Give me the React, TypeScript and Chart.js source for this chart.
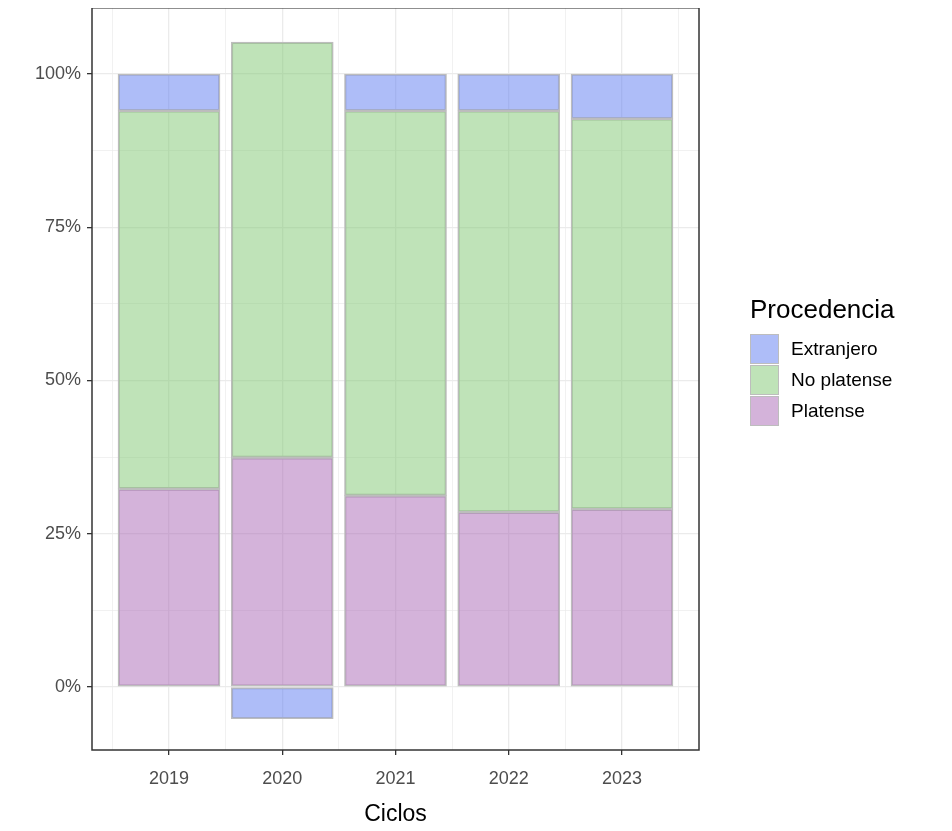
import { useEffect, useRef } from 'react';
import Chart from 'chart.js/auto';

const CICLOS = ['2019', '2020', '2021', '2022', '2023'];
const PLATENSE = [32.3, 37.4, 31.2, 28.5, 29.0];
const NO_PLATENSE = [61.7, 67.8, 62.8, 65.5, 63.7];
const EXTRANJERO = [6.0, -5.2, 6.0, 6.0, 7.3];

const COLORS = {
  extranjero: 'rgba(93, 123, 241, 0.5)',
  noPlatense: 'rgba(127, 199, 113, 0.5)',
  platense: 'rgba(169, 103, 181, 0.5)',
};

const LEGEND = [
  { label: 'Extranjero', color: COLORS.extranjero },
  { label: 'No platense', color: COLORS.noPlatense },
  { label: 'Platense', color: COLORS.platense },
];

const FONT = '"Liberation Sans", Arial, sans-serif';

const isMajor = (v: number, step: number) => Math.abs(v / step - Math.round(v / step)) < 1e-6;

export default function App() {
  const canvasRef = useRef<HTMLCanvasElement | null>(null);

  useEffect(() => {
    const canvas = canvasRef.current;
    if (!canvas) return;

    const toPoints = (vals: number[]) => vals.map((v, i) => ({ x: i + 1, y: v / 100 }));
    const ds = (label: string, vals: number[], color: string) => ({
      label,
      data: toPoints(vals),
      backgroundColor: color,
      borderColor: '#bdbdbd',
      borderWidth: 1.5,
      borderSkipped: false,
      barThickness: 102,
    });

    const border = {
      id: 'panelBorder',
      afterDraw(c: any) {
        const { ctx, chartArea: a } = c;
        ctx.save();
        ctx.strokeStyle = '#333333';
        ctx.lineWidth = 1.5;
        ctx.strokeRect(a.left, a.top, a.right - a.left, a.bottom - a.top);
        ctx.restore();
      },
    };

    const chart = new Chart(canvas, {
      type: 'bar',
      data: {
        datasets: [
          ds('Platense', PLATENSE, COLORS.platense),
          ds('No platense', NO_PLATENSE, COLORS.noPlatense),
          ds('Extranjero', EXTRANJERO, COLORS.extranjero),
        ],
      },
      options: {
        animation: false,
        responsive: false,
        layout: { padding: { top: 0, right: 253, left: 0, bottom: 3 } },
        plugins: { legend: { display: false }, tooltip: { enabled: false } },
        scales: {
          x: {
            type: 'linear',
            stacked: true,
            offset: false,
            bounds: 'ticks',
            min: 0.32,
            max: 5.68,
            afterBuildTicks: (s: any) => {
              s.ticks = [0.5, 1, 1.5, 2, 2.5, 3, 3.5, 4, 4.5, 5, 5.5].map((v) => ({ value: v }));
            },
            afterFit: (s: any) => {
              s.height = 78;
            },
            ticks: {
              autoSkip: false,
              maxRotation: 0,
              callback: (v: any) => (isMajor(Number(v), 1) ? CICLOS[Number(v) - 1] : ''),
              color: '#4d4d4d',
              font: { family: FONT, size: 18 },
              padding: 13,
            },
            grid: {
              offset: false,
              color: '#ebebeb',
              lineWidth: (ctx: any) => (isMajor(ctx.tick.value, 1) ? 1.3 : 0.7),
              tickLength: 5,
              tickColor: (ctx: any) => (isMajor(ctx.tick.value, 1) ? '#333333' : 'rgba(0,0,0,0)'),
            },
            border: { display: false },
            title: {
              display: true,
              text: 'Ciclos',
              color: '#000',
              font: { family: FONT, size: 23 },
              padding: { top: 0, bottom: 0 },
            },
          },
          y: {
            stacked: true,
            min: -0.103,
            max: 1.108,
            afterBuildTicks: (s: any) => {
              s.ticks = [-0.125, 0, 0.125, 0.25, 0.375, 0.5, 0.625, 0.75, 0.875, 1, 1.125]
                .filter((v) => v >= s.min && v <= s.max)
                .map((v) => ({ value: v }));
            },
            afterFit: (s: any) => {
              s.width = 92;
            },
            ticks: {
              autoSkip: false,
              callback: (v: any) => (isMajor(Number(v), 0.25) ? `${Math.round(Number(v) * 100)}%` : ''),
              color: '#4d4d4d',
              font: { family: FONT, size: 18 },
              padding: 6,
            },
            grid: {
              color: '#ebebeb',
              lineWidth: (ctx: any) => (isMajor(ctx.tick.value, 0.25) ? 1.3 : 0.7),
              tickLength: 5,
              tickColor: (ctx: any) => (isMajor(ctx.tick.value, 0.25) ? '#333333' : 'rgba(0,0,0,0)'),
            },
            border: { display: false },
          },
        },
      },
      plugins: [border],
    });

    return () => chart.destroy();
  }, []);

  return (
    <div style={{ position: 'relative', width: 952, height: 831, margin: -8, background: '#fff', fontFamily: FONT, overflow: 'hidden' }}>
      <canvas ref={canvasRef} width={952} height={840} style={{ display: 'block', marginTop: -9 }} />
      <div style={{ position: 'absolute', left: 750, top: 294 }}>
        <div style={{ fontSize: 26, color: '#000', marginBottom: 8 }}>Procedencia</div>
        {LEGEND.map((l) => (
          <div key={l.label} style={{ display: 'flex', alignItems: 'center', height: 31 }}>
            <div
              style={{
                width: 29,
                height: 30,
                background: l.color,
                border: '1.5px solid #bdbdbd',
                boxSizing: 'border-box',
                marginRight: 12,
              }}
            />
            <span style={{ fontSize: 19, color: '#000' }}>{l.label}</span>
          </div>
        ))}
      </div>
    </div>
  );
}
